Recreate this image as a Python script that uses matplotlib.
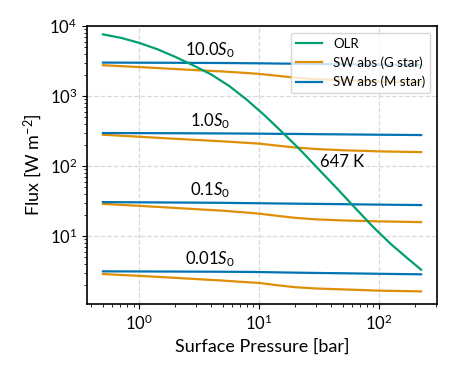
import numpy as np
import matplotlib
matplotlib.use("Agg")
import matplotlib.pyplot as plt

plt.rcParams['font.family'] = ['Lato', 'DejaVu Sans']
plt.rcParams['mathtext.fontset'] = 'custom'
plt.rcParams['mathtext.rm'] = 'Lato'
plt.rcParams['mathtext.it'] = 'Lato:italic'
plt.rcParams['mathtext.bf'] = 'Lato:bold'
plt.rcParams['font.size'] = 12

# OLR curve (surface pressure in bar, flux in W m^-2)
p_olr = [0.5, 0.71, 1, 1.41, 2, 2.82, 3.98, 5.62, 7.94, 11.2, 15.8, 22.4,
         31.6, 44.7, 63.1, 89.1, 126, 178, 225]
olr = [7590, 6760, 5750, 4680, 3630, 2750, 2040, 1400, 881, 525, 299, 166,
       89.1, 47.9, 25.4, 13.6, 7.67, 4.62, 3.31]

# absorbed shortwave at several instellations
p_sw = [0.5, 1, 2, 3, 5, 7, 10, 14, 20, 30, 50, 100, 225]
s_labels = ['10.0', '1.0', '0.1', '0.01']
sw_g = {
    '10.0': [2750, 2590, 2430, 2340, 2240, 2160, 2070, 1950, 1830, 1740, 1680, 1610, 1580],
    '1.0': [280, 262, 245, 236, 225, 217, 209, 196, 184, 175, 168, 162, 158],
    '0.1': [28.8, 27.0, 25.2, 24.2, 23.0, 22.0, 20.9, 19.5, 18.2, 17.3, 16.7, 16.2, 15.8],
    '0.01': [2.87, 2.70, 2.53, 2.43, 2.31, 2.22, 2.14, 1.99, 1.86, 1.78, 1.73, 1.66, 1.62],
}
sw_m = {
    '10.0': [3000, 2990, 2980, 2970, 2960, 2945, 2930, 2910, 2890, 2865, 2840, 2810, 2780],
    '1.0': [296, 295, 294, 293, 292, 291, 290, 288, 287, 285, 283, 280, 277],
    '0.1': [30.5, 30.3, 30.1, 30.0, 29.8, 29.6, 29.4, 29.2, 29.0, 28.8, 28.5, 28.1, 27.7],
    '0.01': [3.13, 3.12, 3.11, 3.10, 3.09, 3.08, 3.06, 3.03, 3.00, 2.97, 2.94, 2.89, 2.84],
}

c_olr = '#029e73'
c_g = '#de8f05'
c_m = '#0173b2'

fig = plt.figure(figsize=(4.57, 3.81), dpi=100)
ax = fig.add_axes([0.1904, 0.2021, 0.7659, 0.7297])

for s in s_labels:
    ax.plot(p_sw, sw_g[s], color=c_g, lw=1.6)
    ax.plot(p_sw, sw_m[s], color=c_m, lw=1.6)
    ax.text(3.9, sw_m[s][4] * 1.09, s + r'$S_0$', ha='center', va='bottom')
l_olr, = ax.plot(p_olr, olr, color=c_olr, lw=1.6, zorder=3)

ax.text(32, 98, '647 K', ha='left', va='baseline')

ax.set_xscale('log')
ax.set_yscale('log')
ax.set_ylim(1.07, 1e4)
ax.set_xlabel('Surface Pressure [bar]', fontsize=13)
ax.set_ylabel(r'Flux [W m$^{-2}$]', fontsize=13)
ax.grid(True, which='major', ls='--', color='0.85', lw=0.9)
for sp in ax.spines.values():
    sp.set_linewidth(1.2)

handles = [l_olr,
           plt.Line2D([], [], color=c_g, lw=1.6),
           plt.Line2D([], [], color=c_m, lw=1.6)]
ax.legend(handles, ['OLR', 'SW abs (G star)', 'SW abs (M star)'],
          loc='upper right', fontsize=9.5)

fig.savefig('out.png', dpi=100)
